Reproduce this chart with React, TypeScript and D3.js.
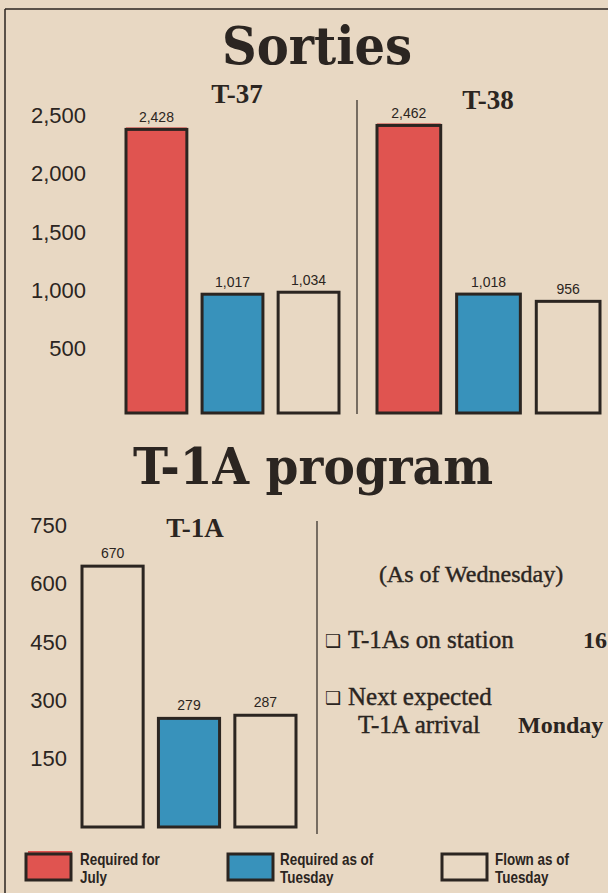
import * as d3 from "d3";

const seriesNames = ["Required for July", "Required as of Tuesday", "Flown as of Tuesday"];
const legendLines = [["Required for", "July"], ["Required as of", "Tuesday"], ["Flown as of", "Tuesday"]];

const t37Values = [2428, 1017, 1034];
const t38Values = [2462, 1018, 956];
const t1aValues = [670, 279, 287];

const sortieTicks = [500, 1000, 1500, 2000, 2500];
const t1aTicks = [150, 300, 450, 600, 750];

const infoRows = [
  { lines: ["T-1As on station"], value: "16" },
  { lines: ["Next expected", "T-1A arrival"], value: "Monday" },
];

const W = 608;
const H = 893;
const paper = "#e8d8c3";
const ink = "#2b2521";
const red = "#e05450";
const blue = "#3892bb";
const serif = "'DejaVu Serif', 'Liberation Serif', serif";
const times = "'Liberation Serif', serif";
const sans = "'Liberation Sans', Arial, sans-serif";

const fills = [red, blue, "none"];

type BarsProps = {
  values: number[];
  y: d3.ScaleLinear<number, number>;
  x0: number;
  x1: number;
  colors: string[];
  valueOffset: number;
};

const Bars = ({ values, y, x0, x1, colors, valueOffset }: BarsProps) => {
  const x = d3.scaleBand<string>().domain(seriesNames).range([x0, x1]).paddingInner(0.2);
  return (
    <g>
      {seriesNames.map((s, i) => {
        const bx = x(s)!;
        const bw = x.bandwidth();
        const top = y(values[i]);
        const base = y(0);
        return (
          <g key={s}>
            {colors[i] === red && (
              <rect x={bx} y={top - 2} width={bw} height={base - top} fill={red} />
            )}
            <rect
              x={bx}
              y={top}
              width={bw}
              height={base - top}
              fill={colors[i] === "none" ? "none" : colors[i]}
              stroke={ink}
              strokeWidth={3}
            />
            <text
              x={bx + bw / 2}
              y={top - valueOffset}
              textAnchor="middle"
              fontFamily={sans}
              fontSize={14}
              fill={ink}
            >
              {d3.format(",")(values[i])}
            </text>
          </g>
        );
      })}
    </g>
  );
};

const App = () => {
  // top panel: sorties
  const yTop = d3.scaleLinear().domain([0, 2500]).range([413, 121]);
  // bottom panel: T-1A
  const yBot = d3.scaleLinear().domain([0, 750]).range([827, 535]);

  const legendX = [26, 228, 442];
  const legendTextX = [80, 280, 495];

  return (
    <svg
      width={W}
      height={H}
      viewBox={`0 0 ${W} ${H}`}
      style={{ position: "absolute", left: 0, top: 0, display: "block" }}
    >
      <rect width={W} height={H} fill={paper} />
      {/* frame */}
      <line x1={5} y1={9} x2={W} y2={9} stroke={ink} strokeWidth={1.5} />
      <line x1={5} y1={9} x2={5} y2={H} stroke={ink} strokeWidth={1.5} />

      {/* Sorties */}
      <text x={317} y={64} textAnchor="middle" fontFamily={serif} fontWeight="bold" fontSize={52}
        fill={ink} textLength={190} lengthAdjust="spacingAndGlyphs">Sorties</text>
      <text x={237} y={103} textAnchor="middle" fontFamily={times} fontWeight="bold" fontSize={27} fill={ink}>T-37</text>
      <text x={488} y={109} textAnchor="middle" fontFamily={times} fontWeight="bold" fontSize={27} fill={ink}>T-38</text>

      {sortieTicks.map((t) => (
        <text key={t} x={86} y={yTop(t) - 6} dy="0.35em" textAnchor="end" fontFamily={sans} fontSize={22} fill={ink}>
          {d3.format(",")(t)}
        </text>
      ))}
      <line x1={357} y1={100} x2={357} y2={414} stroke={ink} strokeWidth={1.2} />
      <Bars values={t37Values} y={yTop} x0={126} x1={339} colors={fills} valueOffset={7} />
      <Bars values={t38Values} y={yTop} x0={377} x1={600} colors={fills} valueOffset={7} />

      {/* T-1A program */}
      <text x={313} y={484} textAnchor="middle" fontFamily={serif} fontWeight="bold" fontSize={50}
        fill={ink} textLength={360} lengthAdjust="spacingAndGlyphs">T-1A program</text>
      <text x={195} y={537} textAnchor="middle" fontFamily={times} fontWeight="bold" fontSize={27} fill={ink}>T-1A</text>
      {t1aTicks.map((t) => (
        <text key={t} x={67} y={yBot(t) - 10} dy="0.35em" textAnchor="end" fontFamily={sans} fontSize={22} fill={ink}>
          {t}
        </text>
      ))}
      <line x1={317} y1={521} x2={317} y2={834} stroke={ink} strokeWidth={1.2} />
      <Bars values={t1aValues} y={yBot} x0={82} x1={296} colors={["none", blue, "none"]} valueOffset={8} />

      {/* side notes */}
      <text x={471} y={582} textAnchor="middle" fontFamily={times} fontSize={24} fill={ink}
        stroke={ink} strokeWidth={0.4}>(As of Wednesday)</text>
      {infoRows.map((r, i) => {
        const by = i === 0 ? 648 : 705;
        return (
          <g key={i}>
            <text x={325} y={by - 1} fontFamily="'DejaVu Sans', sans-serif" fontSize={18} fill={ink}>❑</text>
            {r.lines.map((l, j) => (
              <text key={j} x={j === 0 ? 348 : 358} y={by + j * 28} fontFamily={times} fontSize={25} fill={ink}
                stroke={ink} strokeWidth={0.4}>{l}</text>
            ))}
            <text x={i === 0 ? 583 : 518} y={by + (r.lines.length - 1) * 28} fontFamily={times}
              fontWeight="bold" fontSize={24} fill={ink}>{r.value}</text>
          </g>
        );
      })}

      {/* legend */}
      {seriesNames.map((s, i) => (
        <g key={s}>
          {i === 0 && <rect x={legendX[i] + 2} y={851} width={44} height={22} fill={red} />}
          <rect x={legendX[i]} y={854} width={45} height={26}
            fill={i === 0 ? red : i === 1 ? blue : "none"} stroke={ink} strokeWidth={3} />
          {legendLines[i].map((l, j) => (
            <text key={j} transform={`translate(${legendTextX[i]},${865 + j * 18}) scale(0.84,1)`}
              fontFamily={sans} fontWeight="bold" fontSize={16} fill={ink}>{l}</text>
          ))}
        </g>
      ))}
    </svg>
  );
};

export default App;
